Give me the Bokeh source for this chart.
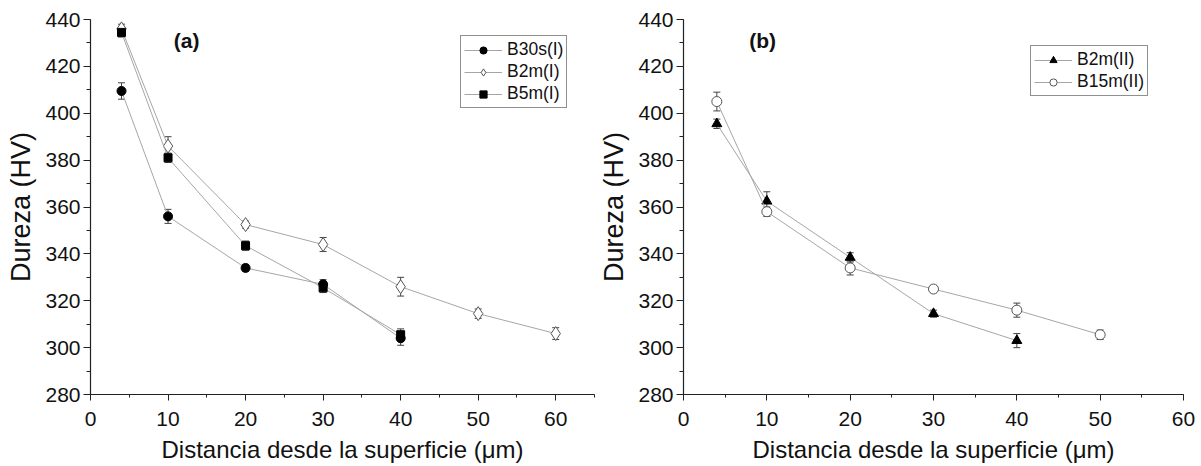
from bokeh.plotting import figure
from bokeh.layouts import row
from bokeh.models import (ColumnDataSource, Whisker, TeeHead, Legend, LegendItem,
                          SingleIntervalTicker, Range1d)
from bokeh.core.properties import value
from bokeh.embed import file_html
from bokeh.resources import INLINE

FONT = "Liberation Sans"

# ---- panel (a) data ----
x_b30s = [4, 10, 20, 30, 40]
hv_b30s = [409.5, 356, 334, 327, 304]
err_b30s = [3.5, 3, 1.5, 2, 3]

x_b2m_I = [4, 10, 20, 30, 40, 50, 60]
hv_b2m_I = [436, 386, 352.5, 344, 326, 314.5, 306]
err_b2m_I = [2, 4, 1.5, 3, 4, 2, 2.5]

x_b5m = [4, 10, 20, 30, 40]
hv_b5m = [434.5, 381, 343.5, 325.5, 305.5]
err_b5m = [2, 2, 2, 2, 2.5]

# ---- panel (b) data ----
x_b2m_II = [4, 10, 20, 30, 40]
hv_b2m_II = [395.5, 362.5, 338.5, 314.5, 303]
err_b2m_II = [2, 4, 2, 1.5, 3]

x_b15m = [4, 10, 20, 30, 40, 50]
hv_b15m = [405, 358, 334, 325, 316, 305.5]
err_b15m = [4, 2, 3, 1.5, 3, 2]

x_title = "Distancia desde la superficie (\u03bcm)"
y_title = "Dureza (HV)"

LINE_GRAY = "#a6a6a6"


def make_fig(width, xmax, min_left, min_right):
    p = figure(width=width, height=466, output_backend="svg", toolbar_location=None,
               x_range=Range1d(0, xmax), y_range=Range1d(280, 440),
               min_border_left=min_left, min_border_right=min_right,
               min_border_top=19, min_border_bottom=72)
    p.outline_line_color = None
    p.xgrid.visible = False
    p.ygrid.visible = False
    p.background_fill_color = "white"
    p.border_fill_color = "white"
    p.xaxis.ticker = SingleIntervalTicker(interval=10, num_minor_ticks=2)
    p.yaxis.ticker = SingleIntervalTicker(interval=20, num_minor_ticks=2)
    for ax in (p.xaxis[0], p.yaxis[0]):
        ax.axis_line_color = "#222222"
        ax.axis_line_width = 1.2
        ax.major_tick_line_color = "#222222"
        ax.minor_tick_line_color = "#222222"
        ax.major_tick_in = 0
        ax.minor_tick_in = 0
        ax.major_label_text_font = FONT
        ax.major_label_text_font_size = "21px"
        ax.major_label_text_color = "#111111"
        ax.axis_label_text_font = FONT
        ax.axis_label_text_font_style = "normal"
        ax.axis_label_text_color = "#111111"
    p.xaxis.major_tick_out = 6
    p.xaxis.minor_tick_out = 3
    p.yaxis.major_tick_out = 7
    p.yaxis.minor_tick_out = 4
    p.xaxis.axis_label = x_title
    p.yaxis.axis_label = y_title
    p.xaxis.axis_label_text_font_size = "24px"
    p.yaxis.axis_label_text_font_size = "27px"
    p.xaxis.major_label_text_line_height = 1.0
    p.xaxis.axis_label_text_line_height = 1.0
    p.xaxis.major_label_standoff = 11
    p.yaxis.major_label_standoff = 3
    p.xaxis.axis_label_standoff = 7
    p.yaxis.axis_label_standoff = 6
    return p


def add_series(p, xs, ys, errs, marker, fill, line_color, size):
    src = ColumnDataSource(dict(x=xs, y=ys,
                                lo=[a - b for a, b in zip(ys, errs)],
                                hi=[a + b for a, b in zip(ys, errs)]))
    lr = p.line("x", "y", source=src, line_color=LINE_GRAY, line_width=1)
    w = Whisker(source=src, base="x", upper="hi", lower="lo",
                line_color="#444444", line_width=1,
                upper_head=TeeHead(size=7, line_color="#444444", line_width=1),
                lower_head=TeeHead(size=7, line_color="#444444", line_width=1))
    p.add_layout(w)
    sr = p.scatter("x", "y", source=src, marker=marker, size=size,
                   fill_color=fill, line_color=line_color, line_width=1)
    return [lr, sr]


def make_legend(items, loc):
    lg = Legend(items=items, location=loc, border_line_color="#222222",
                border_line_width=1, padding=3, spacing=1, margin=0,
                glyph_width=38, glyph_height=18, label_standoff=5, label_height=19,
                label_text_font=FONT, label_text_font_size="17.5px",
                label_text_color="#111111", background_fill_alpha=1.0)
    return lg


# ---------------- panel (a) ----------------
pa = make_fig(596, 65, 90, 2)
r1 = add_series(pa, x_b30s, hv_b30s, err_b30s, "circle", "black", "black", 9)
r2 = add_series(pa, x_b2m_I, hv_b2m_I, err_b2m_I, "diamond", "white", "#555555", 14)
r3 = add_series(pa, x_b5m, hv_b5m, err_b5m, "square", "black", "black", 8)
pa.add_layout(make_legend([LegendItem(label="B30s(I)", renderers=r1),
                           LegendItem(label="B2m(I)", renderers=r2),
                           LegendItem(label="B5m(I)", renderers=r3)], (370, 286)))
pa.text(x=[12.4], y=[431], text=["(a)"], text_font=value(FONT), text_font_style="bold",
        text_font_size="21px", text_align="center", text_baseline="middle",
        text_color="#111111")

# ---------------- panel (b) ----------------
pb = make_fig(605, 60, 84, 18)
r4 = add_series(pb, x_b2m_II, hv_b2m_II, err_b2m_II, "triangle", "black", "black", 10)
r5 = add_series(pb, x_b15m, hv_b15m, err_b15m, "circle", "white", "#555555", 10)
pb.add_layout(make_legend([LegendItem(label="B2m(II)", renderers=r4),
                           LegendItem(label="B15m(II)", renderers=r5)], (347, 298)))
pb.text(x=[9.5], y=[431], text=["(b)"], text_font=value(FONT), text_font_style="bold",
        text_font_size="21px", text_align="center", text_baseline="middle",
        text_color="#111111")

layout = row(pa, pb, spacing=0)
open("out.html", "w").write(file_html(layout, INLINE))
